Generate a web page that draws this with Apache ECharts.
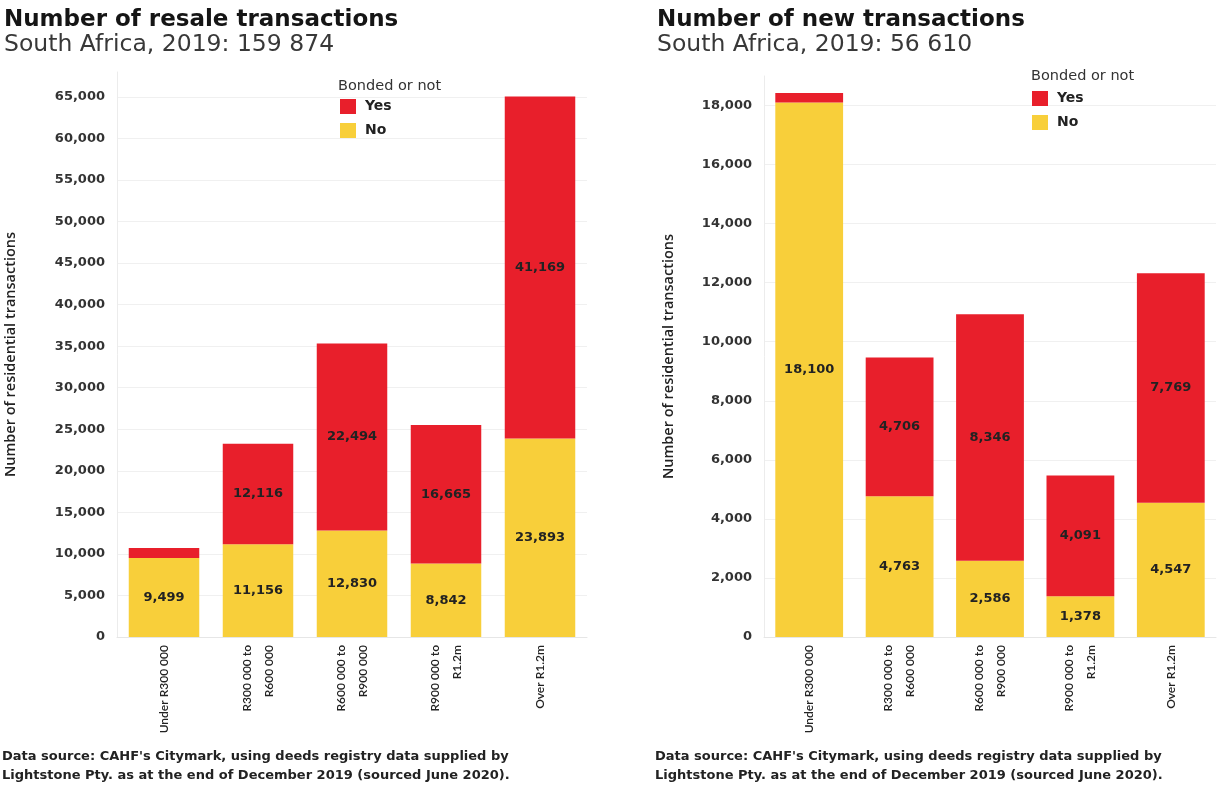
<!DOCTYPE html>
<html>
<head>
<meta charset="utf-8">
<title>Resale and new transactions</title>
<script src="https://cdn.jsdelivr.net/npm/echarts@6/dist/echarts.min.js"></script>
<style>
  html, body { margin: 0; padding: 0; background: #fff; }
  #main { width: 1219px; height: 788px; }
</style>
</head>
<body>
<div id="main"></div>
<script>
// price bands (same for both panels)
var categories = ['Under R300 000', 'R300 000 to\nR600 000', 'R600 000 to\nR900 000', 'R900 000 to\nR1.2m', 'Over R1.2m'];

// resale transactions, 2019
var resaleNo = [9499, 11156, 12830, 8842, 23893];
var resaleYes = [1210, 12116, 22494, 16665, 41169];

// new transactions, 2019
var newNo = [18100, 4763, 2586, 1378, 4547];
var newYes = [324, 4706, 8346, 4091, 7769];

var RED = '#E81F2B', YELLOW = '#F8CF3A';
var FONT = 'Lato', WIDE = 'Open Sans', NUM = 'DejaVu Sans';

var chart = echarts.init(document.getElementById('main'));

var fmt = function (v) {
    return Number(v).toLocaleString('en-US');
};

// value axis for one panel
var valueAxis = function (idx, max, interval, gap) {
    return {
        type: 'value',
        gridIndex: idx,
        min: 0,
        max: max,
        interval: interval,
        name: 'Number of residential transactions',
        nameLocation: 'middle',
        nameGap: gap,
        nameTextStyle: { fontFamily: WIDE, fontWeight: 600, fontSize: 14.5, color: '#222' },
        axisLine: { show: true, lineStyle: { color: '#ececec' } },
        axisTick: { show: false },
        axisLabel: {
            showMaxLabel: false,
            fontFamily: NUM, fontWeight: 'bold', fontSize: 13, color: '#333',
            margin: 12,
            formatter: fmt
        },
        splitLine: { show: true, showMaxLine: false, lineStyle: { color: '#f0f0f0' } }
    };
};

var catAxis = function (idx) {
    return {
        type: 'category',
        gridIndex: idx,
        data: categories,
        axisLine: { show: true, lineStyle: { color: '#e6e6e6' } },
        axisTick: { show: false },
        axisLabel: {
            rotate: 90,
            interval: 0,
            margin: 8,
            fontFamily: FONT, fontWeight: 600, fontSize: 12, color: '#222',
            lineHeight: 22
        }
    };
};

var barLabel = function (hideFirst) {
    return {
        show: true,
        position: 'inside',
        fontFamily: NUM, fontWeight: 'bold', fontSize: 13, color: '#222',
        formatter: function (p) {
            if (hideFirst && p.dataIndex === 0) return '';
            return fmt(p.value);
        }
    };
};

var txt = function (text, left, top, size, weight, color, family, lh) {
    return {
        text: text, left: left, top: top, padding: 0,
        textStyle: {
            fontFamily: family || NUM, fontSize: size, fontWeight: weight,
            color: color || '#222', lineHeight: lh
        }
    };
};

var source = 'Data source: CAHF\'s Citymark, using deeds registry data supplied by\n' +
    'Lightstone Pty. as at the end of December 2019 (sourced June 2020).';

var legendOf = function (left, top) {
    return {
        data: ['Yes', 'No'], orient: 'vertical', left: left, top: top, padding: 0,
        icon: 'rect', itemWidth: 16, itemHeight: 15, itemGap: 9, selectedMode: false,
        textStyle: {
            fontFamily: NUM, fontWeight: 'bold', fontSize: 14, color: '#222',
            padding: [0, 0, 0, 4]
        }
    };
};

chart.setOption({
    animation: false,
    title: [
        txt('Number of resale transactions', 4, 9, 23, 'bold', '#151515'),
        txt('South Africa, 2019: 159 874', 4, 33, 23.5, 'normal', '#383838'),
        txt('Number of new transactions', 657, 9, 23, 'bold', '#151515'),
        txt('South Africa, 2019: 56 610', 657, 33, 23.5, 'normal', '#383838'),
        txt('Bonded or not', 338, 79, 14.5, 'normal', '#333'),
        txt('Bonded or not', 1031, 69, 14.5, 'normal', '#333'),
        txt(source, 2, 747, 13, 'bold', '#222', NUM, 19),
        txt(source, 655, 747, 13, 'bold', '#222', NUM, 19)
    ],
    legend: [legendOf(340, 99), legendOf(1032, 91)],
    grid: [
        { left: 117, right: 632, top: 72, bottom: 151 },
        { left: 764, right: 3, top: 76, bottom: 151 }
    ],
    xAxis: [catAxis(0), catAxis(1)],
    yAxis: [valueAxis(0, 68000, 5000, 99), valueAxis(1, 19000, 2000, 88)],
    series: [
        {
            name: 'No', type: 'bar', stack: 'resale', xAxisIndex: 0, yAxisIndex: 0,
            data: resaleNo, barCategoryGap: '25%', itemStyle: { color: YELLOW },
            label: barLabel(false)
        },
        {
            name: 'Yes', type: 'bar', stack: 'resale', xAxisIndex: 0, yAxisIndex: 0,
            data: resaleYes, barCategoryGap: '25%', itemStyle: { color: RED },
            label: barLabel(true)
        },
        {
            name: 'No', type: 'bar', stack: 'new', xAxisIndex: 1, yAxisIndex: 1,
            data: newNo, barCategoryGap: '25%', itemStyle: { color: YELLOW },
            label: barLabel(false)
        },
        {
            name: 'Yes', type: 'bar', stack: 'new', xAxisIndex: 1, yAxisIndex: 1,
            data: newYes, barCategoryGap: '25%', itemStyle: { color: RED },
            label: barLabel(true)
        }
    ]
});

window.onresize = function () {
    chart.resize();
};
</script>
</body>
</html>
